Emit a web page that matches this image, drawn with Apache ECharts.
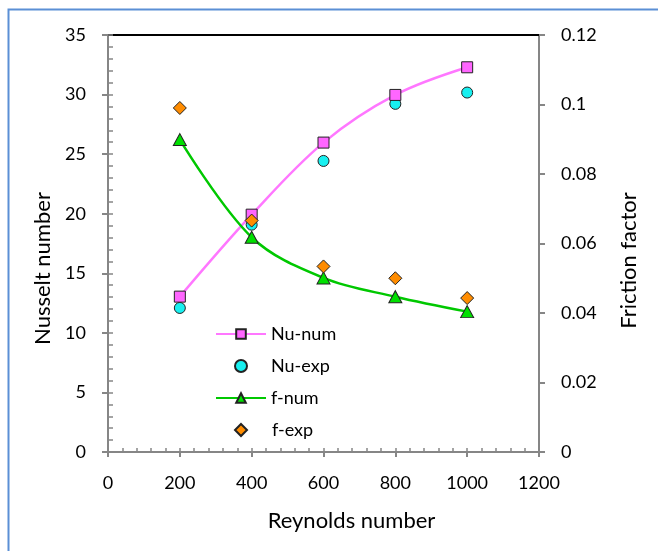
<!DOCTYPE html>
<html>
<head>
<meta charset="utf-8">
<script src="https://cdn.jsdelivr.net/npm/echarts@6/dist/echarts.min.js"></script>
<style>
html,body{margin:0;padding:0;background:#fff;}
#c{width:658px;height:551px;}
</style>
</head>
<body>
<div id="c"></div>
<script>
var reynolds = [200, 400, 600, 800, 1000];
var nuNum = [13.04, 19.92, 25.97, 29.97, 32.29];
var nuExp = [12.09, 19.08, 24.43, 29.22, 30.17];
var fNum = [0.0899, 0.0618, 0.0501, 0.0447, 0.0404];
var fExp = [0.099, 0.0666, 0.0534, 0.0500, 0.0443];

function pairs(xs, ys) { return xs.map(function (x, i) { return [x, ys[i]]; }); }

var FONT = 'Lato';
var AX = '#868686';
var chart = echarts.init(document.getElementById('c'), null, {renderer: 'canvas'});
chart.setOption({
  animation: false,
  backgroundColor: '#fff',
  textStyle: {fontFamily: FONT},
  grid: {left: 108, right: 119, top: 35, bottom: 99, containLabel: false},
  graphic: [{
    type: 'rect', left: 6, top: 7, silent: true,
    shape: {x: 0, y: 0, width: 700, height: 600},
    style: {fill: 'none', stroke: '#5B8FD5', lineWidth: 2}
  }],
  xAxis: [{
    type: 'value', position: 'bottom', min: 0, max: 1200, interval: 200,
    name: 'Reynolds number', nameLocation: 'middle', nameGap: 58,
    nameTextStyle: {fontFamily: FONT, fontSize: 22, color: '#000', padding: [0, 0, 0, 56]},
    axisLine: {onZero: false, lineStyle: {color: AX, width: 2}},
    axisTick: {show: true, inside: false, length: 5, lineStyle: {color: AX, width: 2}},
    axisLabel: {fontFamily: FONT, fontSize: 18, color: '#000', margin: 22,
      formatter: function (v) { return String(v); }},
    splitLine: {show: false}
  }, {
    type: 'value', position: 'top', min: 0, max: 1200, interval: 200,
    axisLine: {onZero: false, lineStyle: {color: '#000', width: 2}},
    axisTick: {show: false}, axisLabel: {show: false}, splitLine: {show: false}
  }, {
    type: 'value', position: 'bottom', min: 0, max: 1200, interval: 40,
    axisLine: {show: false, onZero: false},
    axisTick: {show: true, inside: true, length: 4, lineStyle: {color: AX, width: 1.5}},
    axisLabel: {show: false}, splitLine: {show: false}
  }],
  yAxis: [{
    type: 'value', position: 'left', min: 0, max: 35, interval: 5,
    name: 'Nusselt number', nameLocation: 'middle', nameGap: 54, nameRotate: 90,
    nameTextStyle: {fontFamily: FONT, fontSize: 22, color: '#000', padding: [0, 50, 0, 0]},
    axisLine: {show: true, onZero: false, lineStyle: {color: AX, width: 2}},
    axisTick: {show: true, inside: false, length: 6, lineStyle: {color: AX, width: 2}},
    axisLabel: {fontFamily: FONT, fontSize: 18, color: '#000', margin: 22},
    splitLine: {show: false}
  }, {
    type: 'value', position: 'right', min: 0, max: 0.12, interval: 0.02,
    name: 'Friction factor', nameLocation: 'middle', nameGap: 79, nameRotate: 90,
    nameTextStyle: {fontFamily: FONT, fontSize: 22, color: '#000', padding: [0, 34, 0, 0]},
    axisLine: {show: true, onZero: false, lineStyle: {color: AX, width: 2}},
    axisTick: {show: true, inside: false, length: 6, lineStyle: {color: AX, width: 2}},
    axisLabel: {fontFamily: FONT, fontSize: 18, color: '#000', margin: 22},
    splitLine: {show: false}
  }, {
    type: 'value', position: 'left', min: 0, max: 35, interval: 1,
    axisLine: {show: false, onZero: false},
    axisTick: {show: true, inside: true, length: 5, lineStyle: {color: AX, width: 1.5}},
    axisLabel: {show: false}, splitLine: {show: false}
  }],
  legend: [{
    orient: 'vertical', left: 215, top: 325, padding: 0,
    itemWidth: 50, itemHeight: 12, itemGap: 14,
    textStyle: {fontFamily: FONT, fontSize: 18, color: '#000', lineHeight: 18},
    data: ['Nu-num', 'Nu-exp', 'f-num']
  }, {
    orient: 'vertical', left: 234, top: 421, padding: 0,
    itemWidth: 12, itemHeight: 12,
    textStyle: {fontFamily: FONT, fontSize: 18, color: '#000', lineHeight: 18, padding: [0, 0, 0, 20]},
    data: ['f-exp']
  }],
  series: [{
    name: 'Nu-num', type: 'line', xAxisIndex: 0, yAxisIndex: 0,
    data: pairs(reynolds, nuNum), smooth: 0.35,
    symbol: 'rect', symbolSize: 11,
    lineStyle: {color: '#FF77FF', width: 2.5},
    itemStyle: {color: '#FF66FF', borderColor: '#222', borderWidth: 1}
  }, {
    name: 'Nu-exp', type: 'scatter', xAxisIndex: 0, yAxisIndex: 0,
    data: pairs(reynolds, nuExp),
    symbol: 'circle', symbolSize: 11,
    itemStyle: {color: '#18F0F0', borderColor: '#222', borderWidth: 1, opacity: 1}
  }, {
    name: 'f-num', type: 'line', xAxisIndex: 0, yAxisIndex: 1,
    data: pairs(reynolds, fNum), smooth: 0.35,
    symbol: 'triangle', symbolSize: [13, 12],
    lineStyle: {color: '#00C800', width: 2.5},
    itemStyle: {color: '#00E000', borderColor: '#222', borderWidth: 1}
  }, {
    name: 'f-exp', type: 'scatter', xAxisIndex: 0, yAxisIndex: 1, z: 4,
    data: pairs(reynolds, fExp),
    symbol: 'diamond', symbolSize: 13,
    itemStyle: {color: '#FF8C00', borderColor: '#222', borderWidth: 1, opacity: 1}
  }]
});
</script>
</body>
</html>
